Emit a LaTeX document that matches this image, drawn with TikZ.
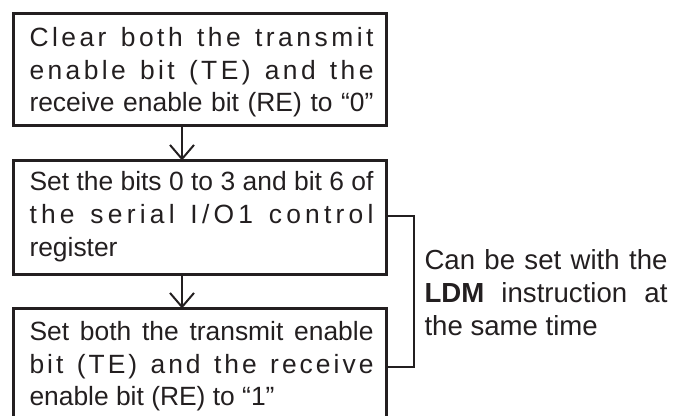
\documentclass[tikz,border=0pt]{standalone}
\usepackage{fontspec}
\setmainfont{Liberation Sans}
\usetikzlibrary{arrows.meta}
\definecolor{ink}{HTML}{231F20}
\makeatletter
\def\lsp{\hskip 0pt plus 1fil\relax}
\def\spreadtxt#1{\sp@w#1 \sp@end}
\def\sp@w#1 #2\sp@end{\sp@l#1\sp@lend\ifx\relax#2\relax\else\lsp\ \lsp\sp@w#2\sp@end\fi}
\def\sp@l#1#2\sp@lend{#1\ifx\relax#2\relax\else\lsp\sp@l#2\sp@lend\fi}
\makeatother
\newcommand\JL[2][172pt]{\hbox to #1{\spreadtxt{#2}}}
\newcommand\JW[2][172pt]{\hbox to #1{#2}}
\newcommand\NL[1]{\hbox{#1}}
\tikzset{
  stepbox/.style={draw=ink, rectangle, line width=1.5pt, minimum width=186.5pt,
    inner sep=0pt, outer sep=0pt, anchor=north west},
  txt/.style={inner sep=0pt, outer sep=0pt, anchor=base west, text=ink,
    font=\fontsize{13.2}{16.3}\selectfont},
  sidetxt/.style={txt, font=\fontsize{13.8}{16.3}\selectfont},
  arr/.style={draw=ink, line width=1pt, -{Straight Barb[length=7pt,width=12pt]}},
  brk/.style={draw=ink, line width=1pt},
}
\begin{document}
\begin{tikzpicture}[x=0.5pt,y=-0.5pt]
\useasboundingbox (0,0) rectangle (686,416);
\node[stepbox, minimum height=56.25pt] (box1) at (13.5,13.5) {};
\node[stepbox, minimum height=57pt] (box2) at (13.5,160.5) {};
\node[stepbox, minimum height=70pt] (box3) at (13.5,308.5) {};
\node[txt] (t1) at (29.5,46.7) {\vtop{\baselineskip=16.3pt
  \JL{Clear both the transmit}
  \JL{enable bit (TE) and the}
  \JW{receive enable bit (RE) to “0”}}};
\node[txt] (t2) at (29.5,191) {\vtop{\baselineskip=16.3pt
  \JW{Set the bits 0 to 3 and bit 6 of}
  \JL{the serial I/O1 control}
  \NL{register}}};
\node[txt] (t3) at (29.5,340.7) {\vtop{\baselineskip=16.3pt
  \JW{Set both the transmit enable}
  \JL{bit (TE) and the receive}
  \NL{enable bit (RE) to “1”}}};
\node[sidetxt] (side) at (424.5,270) {\vtop{\baselineskip=16.3pt
  \JW[121.5pt]{Can be set with the}
  \JW[121.5pt]{{\bfseries LDM} instruction at}
  \NL{the same time}}};
\coordinate (ax) at (182,0);
\coordinate (b1) at (414,216);
\coordinate (b2) at (414,367);
\draw[arr] (box1.south -| ax) -- (box2.north -| ax);
\draw[arr] (box2.south -| ax) -- (box3.north -| ax);
\draw[brk] (box2.east |- b1) -- (b1) -- (b2) -- (box3.east |- b2);
\end{tikzpicture}
\end{document}
